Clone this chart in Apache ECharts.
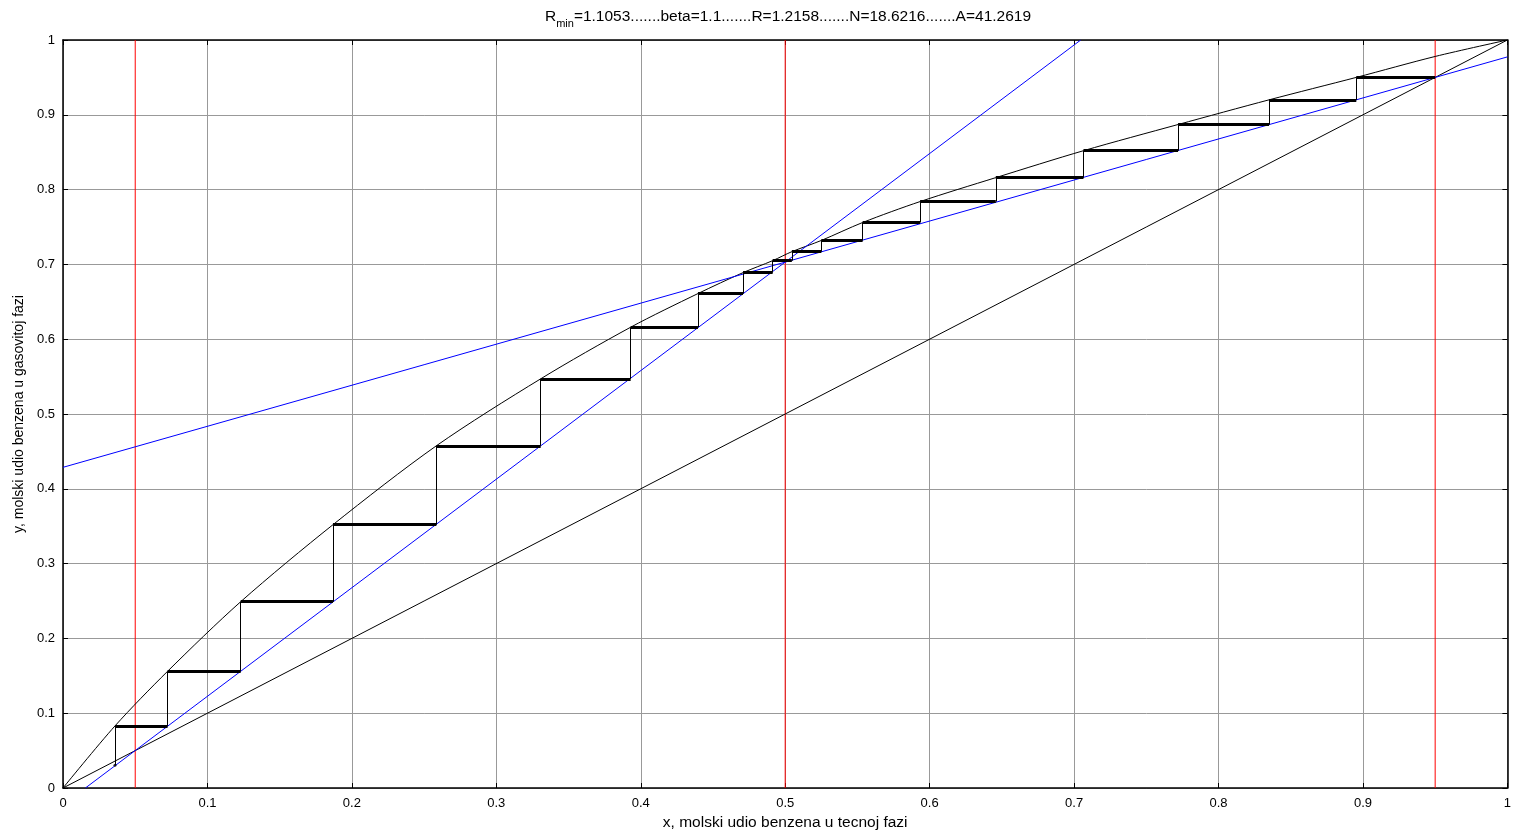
<!DOCTYPE html>
<html>
<head>
<meta charset="utf-8">
<script src="https://cdn.jsdelivr.net/npm/echarts@6/dist/echarts.min.js"></script>
<style>html,body{margin:0;padding:0;background:#fff;}#c{width:1514px;height:836px;}</style>
</head>
<body>
<div id="c"></div>
<script>
// ---- data ----
const tickLabels = ['0','0.1','0.2','0.3','0.4','0.5','0.6','0.7','0.8','0.9','1'];
// equilibrium curve points
const eqX = [0, 0.036, 0.0724, 0.123, 0.1869, 0.2585, 0.3307, 0.393, 0.4396, 0.4708, 0.4913, 0.5046, 0.525, 0.5536, 0.5934, 0.6458, 0.7065, 0.772, 0.835, 0.8954, 0.95, 1];
const eqY = [0, 0.083, 0.156, 0.249, 0.352, 0.4575, 0.547, 0.616, 0.661, 0.689, 0.705, 0.717, 0.732, 0.756, 0.784, 0.816, 0.852, 0.887, 0.920, 0.950, 0.978, 1];
// diagonal y = x
const diagX = [0, 1];
const diagY = [0, 1];
// rectifying operating line
const rectX = [0, 1];
const rectY = [0.4287, 0.9774];
// stripping operating line
const stripX = [0.0155, 0.7046];
const stripY = [0, 1];
// compositions xW, xF, xD (red verticals)
const redX = [0.05, 0.5, 0.95];
// McCabe-Thiele stages: horizontal level and the equilibrium x where each stage ends
const stepY = [0.950, 0.920, 0.887, 0.852, 0.816, 0.784, 0.756, 0.732, 0.717, 0.705, 0.689, 0.661, 0.616, 0.547, 0.4575, 0.352, 0.249, 0.156, 0.083];
const stepX = [0.8954, 0.835, 0.772, 0.7065, 0.6458, 0.5934, 0.5536, 0.525, 0.5046, 0.4913, 0.4708, 0.4396, 0.393, 0.3307, 0.2585, 0.1869, 0.123, 0.0724, 0.036];
const startX = 0.95;
const lastY = 0.0304;

const titleText = '{a|R}{s|min}{a|=1.1053.......beta=1.1.......R=1.2158.......N=18.6216.......A=41.2619}';
const xName = 'x, molski udio benzena u tecnoj fazi';
const yName = 'y, molski udio benzena u gasovitoj fazi';

// ---- build ----
const FONT = 'Liberation Sans, Arial, Helvetica, sans-serif';
const zip = (xs, ys) => xs.map((x, i) => [x, ys[i]]);

const horiz = stepY.map((y, i) => ({coords: [[i === 0 ? startX : stepX[i - 1], y], [stepX[i], y]]}));
const vert = stepX.map((x, i) => ({coords: [[x, stepY[i]], [x, i + 1 < stepY.length ? stepY[i + 1] : lastY]]}));

const fmt = v => {
  const idx = Math.round(v * 10);
  return tickLabels[idx] !== undefined ? tickLabels[idx] : String(v);
};

const baseAxis = {
  type: 'value', min: 0, max: 1, interval: 0.1,
  axisLine: {show: true, onZero: false, lineStyle: {color: '#000', width: 1.5}},
  axisTick: {show: true, inside: true, length: 5, lineStyle: {color: '#000', width: 1}},
};

const lineSeries = (xs, ys, color, z, extra) => Object.assign({
  type: 'line', xAxisIndex: 0, yAxisIndex: 0, data: zip(xs, ys), showSymbol: false, silent: true,
  lineStyle: {color: color, width: 1}, itemStyle: {color: color}, z: z
}, extra || {});

const series = [];
redX.forEach(x => series.push(lineSeries([x, x], [0, 1], '#ff0000', 2)));
series.push(lineSeries(diagX, diagY, '#000000', 3));
series.push(lineSeries(eqX, eqY, '#000000', 3, {smooth: 0.3}));
series.push(lineSeries(rectX, rectY, '#0000ff', 3));
series.push(lineSeries(stripX, stripY, '#0000ff', 3));
series.push({type: 'lines', coordinateSystem: 'cartesian2d', xAxisIndex: 0, yAxisIndex: 0, silent: true,
  data: vert, lineStyle: {color: '#000000', width: 1, opacity: 1}, itemStyle: {color: '#000000'}, z: 4});
series.push({type: 'lines', coordinateSystem: 'cartesian2d', xAxisIndex: 0, yAxisIndex: 0, silent: true,
  data: horiz, lineStyle: {color: '#000000', width: 3, opacity: 1}, itemStyle: {color: '#000000'}, z: 5});
series.push({type: 'scatter', xAxisIndex: 0, yAxisIndex: 0, silent: true,
  data: [[stepX[stepX.length - 1], lastY]], symbol: 'circle', symbolSize: 3,
  itemStyle: {color: '#000000'}, z: 5});

const chart = echarts.init(document.getElementById('c'), null, {renderer: 'canvas'});
chart.setOption({
  animation: false,
  backgroundColor: '#fff',
  title: {
    text: titleText,
    left: 783, top: 4, textAlign: 'center',
    textStyle: {
      fontWeight: 'normal',
      rich: {
        a: {fontFamily: FONT, fontSize: 15.5, fontWeight: 'normal', color: '#000', lineHeight: 18, verticalAlign: 'top'},
        s: {fontFamily: FONT, fontSize: 11, fontWeight: 'normal', color: '#000', lineHeight: 18, verticalAlign: 'top', padding: [9, 0, 0, 0]}
      }
    }
  },
  grid: {left: 63, right: 6, top: 40, bottom: 46, containLabel: false},
  xAxis: [
    Object.assign({}, baseAxis, {
      position: 'bottom',
      name: xName, nameLocation: 'middle', nameGap: 27,
      nameTextStyle: {fontFamily: FONT, fontSize: 15.5, color: '#000'},
      axisLabel: {show: true, formatter: fmt, fontFamily: FONT, fontSize: 13, color: '#000', margin: 9},
      splitLine: {show: true, lineStyle: {color: '#999', width: 1}}
    }),
    Object.assign({}, baseAxis, {
      position: 'top',
      axisLabel: {show: false},
      splitLine: {show: false}
    })
  ],
  yAxis: [
    Object.assign({}, baseAxis, {
      position: 'left',
      name: yName, nameLocation: 'middle', nameGap: 33, nameRotate: 90,
      nameTextStyle: {fontFamily: FONT, fontSize: 14, color: '#000'},
      axisLabel: {show: true, formatter: fmt, fontFamily: FONT, fontSize: 13, color: '#000', margin: 8},
      splitLine: {show: true, lineStyle: {color: '#999', width: 1}}
    }),
    Object.assign({}, baseAxis, {
      position: 'right',
      axisLabel: {show: false},
      splitLine: {show: false}
    })
  ],
  series: series
});
</script>
</body>
</html>
